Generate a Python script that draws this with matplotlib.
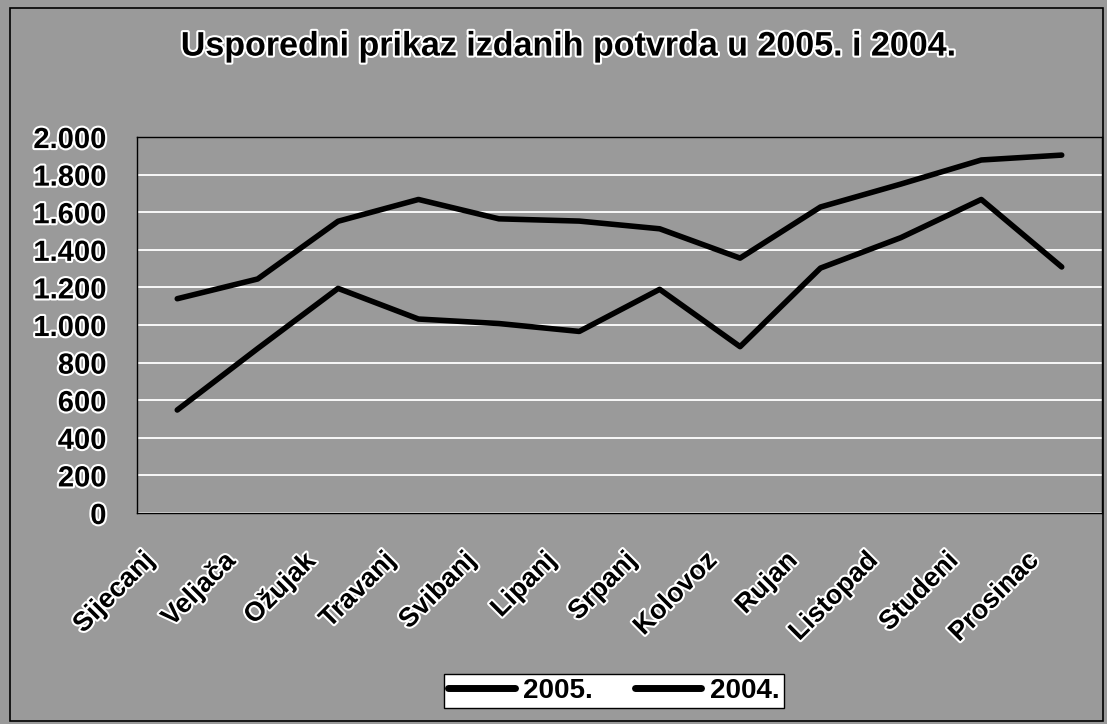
#!/usr/bin/env python3
# -*- coding: utf-8 -*-

import numpy as np
import matplotlib
matplotlib.use('Agg')
from matplotlib import pyplot as plt
from matplotlib import patheffects as pe
from matplotlib import transforms
from matplotlib.patches import Rectangle
from matplotlib.ticker import FuncFormatter

months = ['Sijecanj', 'Veljača', 'Ožujak', 'Travanj', 'Svibanj', 'Lipanj',
          'Srpanj', 'Kolovoz', 'Rujan', 'Listopad', 'Studeni', 'Prosinac']
y2005 = [1140, 1245, 1552, 1668, 1565, 1553, 1512, 1356, 1628, 1750, 1878, 1904]
y2004 = [548, 875, 1195, 1032, 1008, 966, 1190, 885, 1303, 1465, 1668, 1309]
yticks = [0, 200, 400, 600, 800, 1000, 1200, 1400, 1600, 1800, 2000]

plt.rcParams['font.family'] = ['Liberation Sans', 'DejaVu Sans']
bg = '#9a9a9a'
halo = [pe.withStroke(linewidth=3, foreground='white')]

fig = plt.figure(figsize=(11.07, 7.24), dpi=100)
fig.patch.set_facecolor(bg)
fig.patches.append(Rectangle((0.009, 0.004), 0.987, 0.985, transform=fig.transFigure,
                             fill=False, edgecolor='black', linewidth=1.2))

ax = fig.add_axes([0.1238, 0.2914, 0.8716, 0.5193])
ax.set_facecolor(bg)

x = np.arange(len(months))
ax.plot(x, y2005, color='black', linewidth=4, label='2005.', solid_capstyle='round')
ax.plot(x, y2004, color='black', linewidth=4, label='2004.', solid_capstyle='round')

ax.set_xlim(-0.5, len(months) - 0.5)
ax.set_ylim(0, 2000)
ax.set_yticks(yticks)
ax.yaxis.set_major_formatter(FuncFormatter(lambda v, p: '{:,.0f}'.format(v).replace(',', '.')))
ax.grid(axis='y', color='white', linewidth=1.3)
ax.set_axisbelow(True)
for s in ax.spines.values():
	s.set_color('black')
	s.set_linewidth(1)

ax.tick_params(axis='y', length=0, pad=22, labelsize=21)
ax.tick_params(axis='x', length=0, pad=14, labelsize=19.5)
ax.set_xticks(x)
ax.set_xticklabels(months, rotation=45, ha='right', va='top', rotation_mode='anchor')
# shift month labels left/down like the original
shift = transforms.ScaledTranslation(-36 / 100, -15 / 100, fig.dpi_scale_trans)
for lbl in ax.get_xticklabels():
	lbl.set_transform(lbl.get_transform() + shift)
for lbl in ax.get_yticklabels() + ax.get_xticklabels():
	lbl.set_fontweight('bold')
	lbl.set_path_effects(halo)

fig.text(0.513, 0.935, 'Usporedni prikaz izdanih potvrda u 2005. i 2004.',
         ha='center', va='center', fontsize=24.5, fontweight='bold',
         path_effects=halo)

leg = fig.legend(loc='center', bbox_to_anchor=(0.5545, 0.046), ncol=2, frameon=True,
                 prop={'weight': 'bold', 'size': 20}, handlelength=2.4,
                 handletextpad=0.3, columnspacing=1.5, borderpad=0.15,
                 fancybox=False)
leg.get_frame().set_facecolor('white')
leg.get_frame().set_edgecolor('black')
leg.get_frame().set_alpha(1)
for h in leg.get_lines():
	h.set_linewidth(5)

fig.savefig('out.png', dpi=100, facecolor=fig.get_facecolor())
